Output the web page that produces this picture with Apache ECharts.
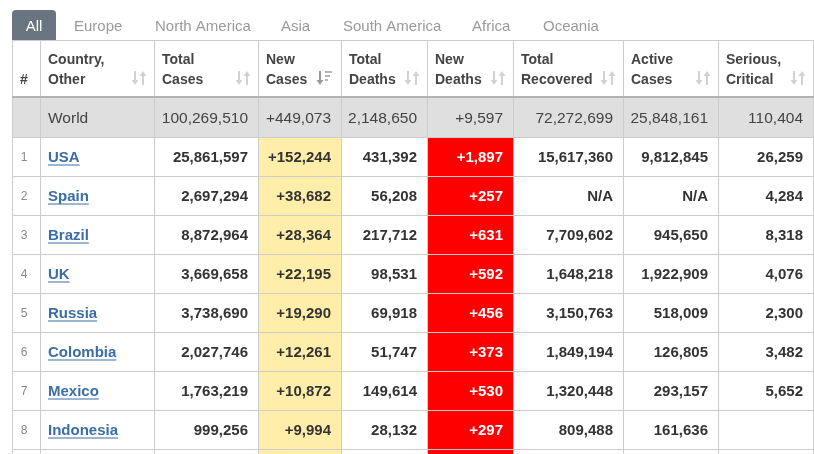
<!DOCTYPE html>
<html>
<head>
<meta charset="utf-8">
<script src="https://cdn.jsdelivr.net/npm/echarts@6/dist/echarts.min.js"></script>
<style>
    html, body {margin: 0; padding: 0; background: #fff;}
    #main {width: 814px; height: 454px;}
</style>
</head>
<body>
<div id="main"></div>
<script>
var tabs = ['All', 'Europe', 'North America', 'Asia', 'South America', 'Africa', 'Oceania'];
var headers = [['#'], ['Country,', 'Other'], ['Total', 'Cases'], ['New', 'Cases'], ['Total', 'Deaths'],
    ['New', 'Deaths'], ['Total', 'Recovered'], ['Active', 'Cases'], ['Serious,', 'Critical']];
var ranks = ['', '1', '2', '3', '4', '5', '6', '7', '8'];
var countries = ['World', 'USA', 'Spain', 'Brazil', 'UK', 'Russia', 'Colombia', 'Mexico', 'Indonesia'];
var totalCases = [100269510, 25861597, 2697294, 8872964, 3669658, 3738690, 2027746, 1763219, 999256];
var newCases = [449073, 152244, 38682, 28364, 22195, 19290, 12261, 10872, 9994];
var totalDeaths = [2148650, 431392, 56208, 217712, 98531, 69918, 51747, 149614, 28132];
var newDeaths = [9597, 1897, 257, 631, 592, 456, 373, 530, 297];
var totalRecovered = [72272699, 15617360, 'N/A', 7709602, 1648218, 3150763, 1849194, 1320448, 809488];
var activeCases = [25848161, 9812845, 'N/A', 945650, 1922909, 518009, 126805, 293157, 161636];
var seriousCritical = [110404, 26259, 4284, 8318, 4076, 2300, 3482, 5652, null];

// layout (pixel units of the hidden axes)
var W = 814, H = 454;
var colEdges = [12, 40, 154, 258, 341, 427, 513, 623, 718, 813];
var tabLeft = [12, 74, 155, 281, 343, 472, 543];
var headTop = 40, headBottom = 98, rowH = 39;
var rowCount = countries.length + 1; // one more row peeks in at the bottom
var FONT = 'Arial, "Liberation Sans", sans-serif';

function rowTop(r) {
    return headBottom + r * rowH;
}

function fmt(v, plus) {
    if (typeof v === 'number') {
        return (plus ? '+' : '') + echarts.format.addCommas(v);
    }
    return v || '';
}

var measure = document.createElement('canvas').getContext('2d');

function textWidth(text, font) {
    measure.font = font;
    return measure.measureText(text).width;
}

// ---- cell backgrounds
var cells = [];
cells.push({c0: 0, c1: 9, r: 0, color: '#dfdfdf'});
for (var r = 1; r < rowCount; r++) {
    cells.push({c0: 3, c1: 4, r: r, color: '#ffeeaa'});
    cells.push({c0: 5, c1: 6, r: r, color: '#ff0000'});
}

// ---- grid lines
var lines = [];
colEdges.forEach(function (x) {
    lines.push({x0: x + 0.5, y0: headTop, x1: x + 0.5, y1: H, w: 1, color: '#cccccc'});
});
lines.push({x0: colEdges[0], y0: headTop + 0.5, x1: W, y1: headTop + 0.5, w: 1, color: '#cccccc'});
for (var r = 1; r < rowCount; r++) {
    lines.push({x0: colEdges[0], y0: rowTop(r) + 0.5, x1: W, y1: rowTop(r) + 0.5, w: 1, color: '#cccccc'});
}
lines.push({x0: colEdges[0], y0: headBottom - 1, x1: W, y1: headBottom - 1, w: 2, color: '#b3b3b3'});

// ---- texts
var texts = [];
tabs.forEach(function (t, i) {
    if (i === 0) {
        texts.push({x: 34, y: 26.5, text: t, align: 'center', font: '15px ' + FONT, color: '#fff'});
    } else {
        texts.push({x: tabLeft[i], y: 26.5, text: t, align: 'left', font: '15px ' + FONT, color: '#9a9a9a'});
    }
});
headers.forEach(function (h, c) {
    if (c === 0) {
        texts.push({x: 24, y: 80, text: h[0], align: 'center', font: 'bold 14px ' + FONT, color: '#444'});
        return;
    }
    h.forEach(function (line, k) {
        texts.push({x: colEdges[c] + 8, y: 60 + k * 20, text: line, align: 'left',
            font: 'bold 14px ' + FONT, color: '#444'});
    });
});

var numCols = [totalCases, newCases, totalDeaths, newDeaths, totalRecovered, activeCases, seriousCritical];
var underlines = [];
countries.forEach(function (name, r) {
    var cy = rowTop(r) + rowH / 2 + 1;
    var world = r === 0;
    var font = world ? '15.5px ' + FONT : 'bold 15px ' + FONT;
    if (!world) {
        texts.push({x: 24, y: cy, text: ranks[r], align: 'center', font: '12px ' + FONT, color: '#888'});
        var w = textWidth(name, font);
        underlines.push({x0: 48, y0: cy + 7.5, x1: 48 + w, y1: cy + 7.5, w: 1, color: '#3a6ea5'});
    }
    texts.push({x: 48, y: cy, text: name, align: 'left', font: font, color: world ? '#444' : '#3a6ea5'});
    numCols.forEach(function (arr, k) {
        var c = k + 2;
        var plus = arr === newCases || arr === newDeaths;
        texts.push({x: colEdges[c + 1] - 10, y: cy, text: fmt(arr[r], plus), align: 'right', font: font,
            color: world ? '#444' : (arr === newDeaths ? '#fff' : '#333')});
    });
});

// ---- sort icons in the header
var icons = [];
for (var c = 1; c < headers.length; c++) {
    icons.push({x: colEdges[c + 1] - 8, y: 78, active: c === 3});
}

var chart = echarts.init(document.getElementById('main'));

function lineItem(list) {
    return function (params, api) {
        var l = list[params.dataIndex];
        var p0 = api.coord([l.x0, l.y0]);
        var p1 = api.coord([l.x1, l.y1]);
        return {
            type: 'line',
            shape: {x1: p0[0], y1: p0[1], x2: p1[0], y2: p1[1]},
            style: {stroke: l.color, lineWidth: l.w}
        };
    };
}

var option = {
    animation: false,
    grid: {left: 0, right: 0, top: 0, bottom: 0},
    xAxis: {type: 'value', min: 0, max: W, show: false},
    yAxis: {type: 'value', min: 0, max: H, inverse: true, show: false},
    series: [
        {
            // "All" tab
            type: 'custom',
            data: [[12, 10]],
            renderItem: function (params, api) {
                var p0 = api.coord([12, 10]);
                var p1 = api.coord([56, headTop + 1]);
                return {
                    type: 'rect',
                    shape: {x: p0[0], y: p0[1], width: p1[0] - p0[0], height: p1[1] - p0[1], r: [4, 4, 0, 0]},
                    style: {fill: '#687480'}
                };
            }
        },
        {
            type: 'custom',
            data: cells.map(function (d) {
                return [colEdges[d.c0], rowTop(d.r)];
            }),
            renderItem: function (params, api) {
                var d = cells[params.dataIndex];
                var p0 = api.coord([colEdges[d.c0], rowTop(d.r)]);
                var p1 = api.coord([d.c1 === 9 ? W : colEdges[d.c1], rowTop(d.r) + rowH]);
                return {
                    type: 'rect',
                    shape: {x: p0[0], y: p0[1], width: p1[0] - p0[0], height: p1[1] - p0[1]},
                    style: {fill: d.color}
                };
            }
        },
        {
            type: 'custom',
            data: lines.map(function (l) {
                return [l.x0, l.y0];
            }),
            renderItem: lineItem(lines)
        },
        {
            type: 'custom',
            data: underlines.map(function (l) {
                return [l.x0, l.y0];
            }),
            renderItem: lineItem(underlines)
        },
        {
            type: 'custom',
            data: icons.map(function (d) {
                return [d.x, d.y];
            }),
            renderItem: function (params, api) {
                var d = icons[params.dataIndex];
                var p = api.coord([d.x, d.y]);
                var x = p[0], y = p[1];
                var children;
                if (d.active) {
                    children = [
                        {type: 'rect', shape: {x: x - 14, y: y - 7, width: 2, height: 9}, style: {fill: '#9a9a9a'}},
                        {type: 'polygon', shape: {points: [[x - 16.5, y + 2], [x - 9.5, y + 2], [x - 13, y + 7]]}, style: {fill: '#9a9a9a'}},
                        {type: 'rect', shape: {x: x - 8, y: y - 7, width: 7, height: 2}, style: {fill: '#b5b5b5'}},
                        {type: 'rect', shape: {x: x - 8, y: y - 3, width: 5, height: 2}, style: {fill: '#b5b5b5'}},
                        {type: 'rect', shape: {x: x - 8, y: y + 1, width: 3, height: 2}, style: {fill: '#b5b5b5'}}
                    ];
                } else {
                    children = [
                        {type: 'rect', shape: {x: x - 12, y: y - 7, width: 2, height: 9}, style: {fill: '#d2d2d2'}},
                        {type: 'polygon', shape: {points: [[x - 14.5, y + 2], [x - 7.5, y + 2], [x - 11, y + 7]]}, style: {fill: '#d2d2d2'}},
                        {type: 'rect', shape: {x: x - 4, y: y - 2, width: 2, height: 9}, style: {fill: '#d2d2d2'}},
                        {type: 'polygon', shape: {points: [[x - 6.5, y - 2], [x + 0.5, y - 2], [x - 3, y - 7]]}, style: {fill: '#d2d2d2'}}
                    ];
                }
                return {type: 'group', children: children};
            }
        },
        {
            type: 'custom',
            data: texts.map(function (t) {
                return [t.x, t.y];
            }),
            renderItem: function (params, api) {
                var t = texts[params.dataIndex];
                var p = api.coord([t.x, t.y]);
                return {
                    type: 'text',
                    x: p[0],
                    y: p[1],
                    style: {
                        text: t.text,
                        font: t.font,
                        fill: t.color,
                        align: t.align,
                        verticalAlign: 'middle'
                    }
                };
            }
        }
    ]
};

chart.setOption(option);
</script>
</body>
</html>
